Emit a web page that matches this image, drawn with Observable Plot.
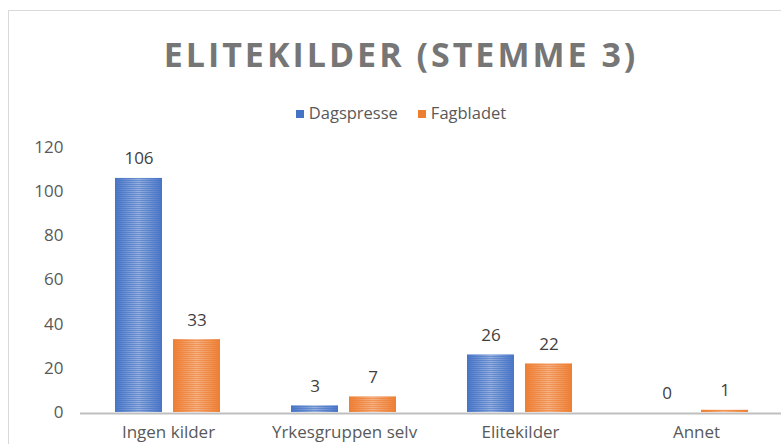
<!DOCTYPE html>
<html>
<head>
<meta charset="utf-8">
<script src="https://cdn.jsdelivr.net/npm/d3@7"></script>
<script src="https://cdn.jsdelivr.net/npm/@observablehq/plot@0.6"></script>
<style>
  body { margin: 0; background: #fff; }
  #wrap { position: relative; width: 781px; height: 444px; overflow: hidden; font-family: "Open Sans", sans-serif; }
  #frame { position: absolute; left: 8px; top: 10px; width: 800px; height: 500px; border: 1.5px solid #d9d9d9; box-sizing: border-box; }
  #title { position: absolute; left: 8px; width: 786px; top: 34px; line-height: 40px; text-align: center; font-size: 34px; font-weight: 700; letter-spacing: 3px; color: #767676; }
  #legend { position: absolute; left: 8px; width: 786px; top: 103px; line-height: 20px; text-align: center; font-size: 16.5px; color: #595959; }
  #legend span.item { display: inline-block; margin: 0 10px; }
  #legend span.sw { display: inline-block; width: 8px; height: 8px; margin-right: 5px; vertical-align: 1px; }
  #chart { position: absolute; left: 0; top: 130px; }
</style>
</head>
<body>
<div id="wrap">
  <div id="frame"></div>
  <div id="title">ELITEKILDER (STEMME 3)</div>
  <div id="legend"></div>
  <div id="chart"></div>
</div>
<script>
const categories = ["Ingen kilder", "Yrkesgruppen selv", "Elitekilder", "Annet"];
const series = ["Dagspresse", "Fagbladet"];
const dagspresse = [106, 3, 26, 0];
const fagbladet = [33, 7, 22, 1];
const yTicks = [0, 20, 40, 60, 80, 100, 120];
const seriesColors = ["#4472C4", "#ED7D31"];

const data = categories.flatMap((c, i) => [
  {cat: c, s: series[0], v: dagspresse[i]},
  {cat: c, s: series[1], v: fagbladet[i]}
]);

// legend
const legend = document.getElementById("legend");
series.forEach((s, i) => {
  const item = document.createElement("span");
  item.className = "item";
  const sw = document.createElement("span");
  sw.className = "sw";
  sw.style.background = seriesColors[i];
  item.appendChild(sw);
  item.appendChild(document.createTextNode(s));
  legend.appendChild(item);
});

const chart = Plot.plot({
  width: 781,
  height: 314,
  marginTop: 17,
  marginBottom: 32,
  marginLeft: 79,
  marginRight: 0,
  style: {fontFamily: "'Open Sans', sans-serif", fontSize: "17px", color: "#595959", background: "transparent", overflow: "visible"},
  fx: {domain: categories, range: [79.5, 783.5], padding: 0, label: null, axis: "bottom", tickSize: 0, tickPadding: 13},
  x: {domain: series, axis: null, paddingInner: 0.182, paddingOuter: 0.6},
  y: {domain: [0, 120], ticks: yTicks, tickSize: 0, tickPadding: 17, label: null, grid: false},
  color: {domain: series, range: ["url(#gradB)", "url(#gradO)"]},
  marks: [
    Plot.barY(data, {fx: "cat", x: "s", y: "v", fill: "s"}),
    Plot.barY(data.filter(d => d.s === series[0]), {fx: "cat", x: "s", y: "v", fill: "url(#stripeB)"}),
    Plot.barY(data.filter(d => d.s === series[1]), {fx: "cat", x: "s", y: "v", fill: "url(#stripeO)"}),
    Plot.ruleY([0], {stroke: "#bfbfbf", strokeWidth: 2, dy: 1}),
    Plot.text(data, {fx: "cat", x: "s", y: "v", text: d => String(d.v), dy: -14, lineAnchor: "bottom", fill: "#404040", fontSize: 17})
  ]
});

// gradient + stripe defs
const svg = d3.select(chart.tagName.toLowerCase() === "svg" ? chart : chart.querySelector("svg"));
const defs = svg.insert("defs", ":first-child");
function grad(id, edge, mid) {
  const g = defs.append("linearGradient").attr("id", id).attr("x1", 0).attr("x2", 1).attr("y1", 0).attr("y2", 0);
  g.append("stop").attr("offset", 0).attr("stop-color", edge);
  g.append("stop").attr("offset", 0.5).attr("stop-color", mid);
  g.append("stop").attr("offset", 1).attr("stop-color", edge);
}
grad("gradB", "#4a75c6", "#97b1df");
grad("gradO", "#ee7f33", "#f5b287");
function stripe(id, col) {
  const p = defs.append("pattern").attr("id", id).attr("patternUnits", "userSpaceOnUse").attr("width", 8).attr("height", 2);
  p.append("rect").attr("x", 0).attr("y", 0).attr("width", 8).attr("height", 1).attr("fill", col).attr("fill-opacity", 0.55);
}
stripe("stripeB", "#4472C4");
stripe("stripeO", "#ED7D31");

document.getElementById("chart").appendChild(chart);
</script>
</body>
</html>
